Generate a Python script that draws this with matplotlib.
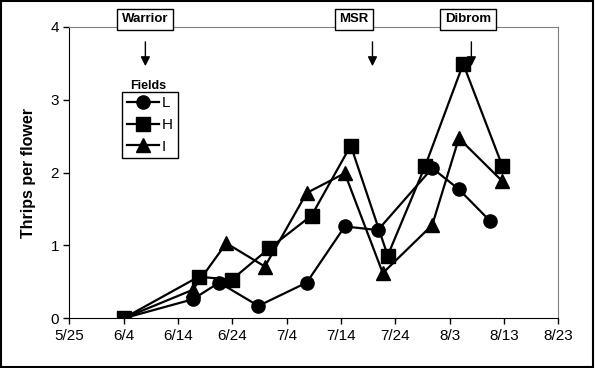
import matplotlib.pyplot as plt
from matplotlib.patches import Rectangle

plt.rcParams['font.family'] = ['Liberation Sans', 'DejaVu Sans']

# days counted from 5/25
tick_days = [0, 10, 20, 30, 40, 50, 60, 70, 80, 90]
tick_labels = ['5/25', '6/4', '6/14', '6/24', '7/4', '7/14', '7/24', '8/3', '8/13', '8/23']

days_L = [10, 22.7, 27.6, 34.8, 43.7, 50.7, 56.8, 66.8, 71.7, 77.5]
vals_L = [0, 0.26, 0.49, 0.17, 0.49, 1.26, 1.21, 2.06, 1.77, 1.33]
days_H = [10, 23.8, 29.9, 36.8, 44.6, 51.8, 58.6, 65.5, 72.5, 79.7]
vals_H = [0, 0.57, 0.53, 0.96, 1.41, 2.37, 0.86, 2.09, 3.49, 2.09]
days_I = [10, 22.7, 28.9, 36.0, 43.7, 50.7, 57.7, 66.8, 71.7, 79.7]
vals_I = [0, 0.39, 1.03, 0.71, 1.72, 1.99, 0.62, 1.28, 2.47, 1.88]

sprays = ['Warrior', 'MSR', 'Dibrom']
spray_days = [14, 55.8, 74]
label_days = [14, 52.4, 73.4]

W, H = 595, 368
fig = plt.figure(figsize=(W / 100, H / 100), dpi=100)
ax = fig.add_axes([69.3 / W, 1 - 318.3 / H, (558.3 - 69.3) / W, (318.3 - 26.7) / H])

kw = dict(color='black', lw=1.6, markersize=9.5)
ax.plot(days_L, vals_L, marker='o', label='L', **kw)
ax.plot(days_H, vals_H, marker='s', label='H', **kw)
ax.plot(days_I, vals_I, marker='^', label='I', **kw)

ax.set_xlim(0, 90)
ax.set_ylim(0, 4)
ax.set_xticks(tick_days)
ax.set_xticklabels(tick_labels)
ax.set_yticks([0, 1, 2, 3, 4])
ax.tick_params(direction='out', length=4, width=1, labelsize=11, colors='black')
ax.spines['top'].set_color('#808080')
ax.spines['right'].set_color('#808080')
for s in ['left', 'bottom']:
    ax.spines[s].set_color('black')
ax.set_ylabel('Thrips per flower', fontsize=11.5, fontweight='bold', labelpad=10)

for name, d, ld in zip(sprays, spray_days, label_days):
    ax.annotate('', xy=(d, 3.42), xytext=(d, 3.83),
                arrowprops=dict(arrowstyle='-|>', color='black', lw=1, mutation_scale=14),
                annotation_clip=False)
    ax.text(ld, 4.1, name, ha='center', va='center', fontsize=9.5, fontweight='bold',
            bbox=dict(boxstyle='square,pad=0.35', fc='white', ec='black', lw=1), clip_on=False)

leg = ax.legend(loc='upper left', bbox_to_anchor=(122.3 / W, 1 - 91.7 / H),
                bbox_transform=fig.transFigure, borderaxespad=0, fontsize=11,
                handlelength=2.1, handletextpad=0.2, labelspacing=0.5, borderpad=0.3,
                fancybox=False, framealpha=1, edgecolor='black')
leg.get_frame().set_linewidth(1)
fig.text(148 / W, 1 - 86 / H, 'Fields', ha='center', va='center', fontsize=9, fontweight='bold')

fig.patches.append(Rectangle((0.002, 0.003), 0.995, 0.994, transform=fig.transFigure,
                             fill=False, ec='black', lw=1.5))

fig.savefig('out.png', dpi=100)
